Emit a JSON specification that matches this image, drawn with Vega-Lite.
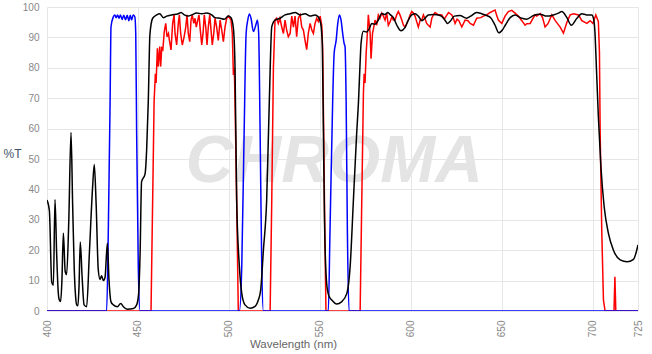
{
"$schema":"https://vega.github.io/schema/vega-lite/v6.json",
"width":591,"height":304,
"autosize":{"type":"none"},
"padding":{"left":47,"top":7,"right":14,"bottom":43},
"background":"white",
"config":{"view":{"stroke":null},"font":"Liberation Sans",
 "axis":{"ticks":false,"domain":false,"grid":true,"gridColor":"#e6e6e6","labelColor":"#888888","labelFontSize":10,"labelFont":"Liberation Sans","labelOverlap":false,"titleFont":"Liberation Sans","titleFontWeight":"normal"},
 "axisX":{"labelAngle":-90,"labelFlush":false,"labelPadding":9,"titleFontSize":11.5,"titleColor":"#666666","titleX":246,"titleY":33,"titleAlign":"center","titleBaseline":"middle"},
 "axisY":{"labelPadding":8,"titleFontSize":12,"titleColor":"#44546a","titleAngle":0,"titleX":-35,"titleY":146,"titleAlign":"center","titleBaseline":"middle"}},
"datasets":{
"wm":[{"label":"CHROMA"}],
"black":[{"wl":400,"t":36.5},{"wl":401.3,"t":33},{"wl":402.6,"t":9.5},{"wl":403.5,"t":8.5},{"wl":404.4,"t":36.7},{"wl":405.3,"t":19},{"wl":406.2,"t":6},{"wl":406.8,"t":3.6},{"wl":407.5,"t":3.1},{"wl":408.2,"t":10},{"wl":409,"t":25.6},{"wl":410,"t":13},{"wl":410.8,"t":12},{"wl":412,"t":30},{"wl":413.2,"t":58.7},{"wl":414.1,"t":35},{"wl":415,"t":13.5},{"wl":415.7,"t":5},{"wl":416.3,"t":2},{"wl":417,"t":1.7},{"wl":417.6,"t":8},{"wl":418.3,"t":22.7},{"wl":419.3,"t":11.3},{"wl":420.4,"t":2},{"wl":421.8,"t":1.4},{"wl":423.3,"t":19},{"wl":425.1,"t":41},{"wl":426,"t":48.2},{"wl":427,"t":35.5},{"wl":428.2,"t":13.5},{"wl":429.2,"t":10.4},{"wl":430,"t":11.6},{"wl":431,"t":10},{"wl":431.9,"t":11},{"wl":433.2,"t":22.3},{"wl":434.1,"t":10.2},{"wl":435.2,"t":3},{"wl":436.5,"t":2},{"wl":438.7,"t":1.4},{"wl":440.5,"t":2.5},{"wl":442,"t":1.4},{"wl":444.2,"t":0.6},{"wl":447.5,"t":0.8},{"wl":449.3,"t":2},{"wl":450.4,"t":5.8},{"wl":451.2,"t":19},{"wl":452,"t":42.5},{"wl":453.9,"t":45},{"wl":454.8,"t":53},{"wl":455.7,"t":69},{"wl":456.6,"t":91},{"wl":458.1,"t":96.3},{"wl":460.3,"t":97.4},{"wl":462,"t":97.8},{"wl":464,"t":96.5},{"wl":465.8,"t":97},{"wl":468.5,"t":97.4},{"wl":472.2,"t":97.8},{"wl":473.7,"t":98.2},{"wl":475.5,"t":97.4},{"wl":477.7,"t":97},{"wl":479.6,"t":97.4},{"wl":482.3,"t":98},{"wl":485.1,"t":97.8},{"wl":487.8,"t":98},{"wl":490.6,"t":97.4},{"wl":492.4,"t":96.5},{"wl":495.2,"t":96.3},{"wl":497.5,"t":96},{"wl":499.7,"t":97},{"wl":501.2,"t":96.5},{"wl":502.5,"t":93},{"wl":503.4,"t":80},{"wl":504.3,"t":36.5},{"wl":505.8,"t":14.6},{"wl":507.1,"t":5.8},{"wl":508.9,"t":2},{"wl":511.7,"t":0.9},{"wl":514.4,"t":1.5},{"wl":516.2,"t":3.6},{"wl":517.5,"t":6.9},{"wl":519,"t":20},{"wl":520.8,"t":36.5},{"wl":522.3,"t":70},{"wl":523.6,"t":93.5},{"wl":525.4,"t":95.7},{"wl":528.2,"t":96.3},{"wl":530.9,"t":97.4},{"wl":533.7,"t":97.8},{"wl":536.4,"t":98.2},{"wl":539.2,"t":97.4},{"wl":541.9,"t":97.8},{"wl":544.7,"t":97},{"wl":547.4,"t":97.4},{"wl":549.2,"t":96.7},{"wl":550.5,"t":94.6},{"wl":551.4,"t":88},{"wl":552,"t":60},{"wl":552.6,"t":30},{"wl":553.8,"t":9},{"wl":555,"t":5},{"wl":556.6,"t":3.6},{"wl":559.3,"t":2.3},{"wl":562,"t":3},{"wl":564.9,"t":5.8},{"wl":566.7,"t":14.6},{"wl":568.5,"t":36.5},{"wl":570.3,"t":58.5},{"wl":571.3,"t":69},{"wl":572.2,"t":82},{"wl":572.7,"t":88},{"wl":574,"t":92},{"wl":575.8,"t":91.8},{"wl":577.3,"t":93},{"wl":578.6,"t":94.6},{"wl":580.4,"t":94.3},{"wl":582.2,"t":95.7},{"wl":584.1,"t":97.9},{"wl":585.9,"t":97.5},{"wl":587.4,"t":98.2},{"wl":588.7,"t":97.5},{"wl":590.5,"t":96.5},{"wl":592.4,"t":94},{"wl":594.7,"t":92.2},{"wl":596.9,"t":93.3},{"wl":598.7,"t":95.7},{"wl":600.6,"t":97.4},{"wl":602.4,"t":97.8},{"wl":604.2,"t":97},{"wl":606.1,"t":95.5},{"wl":607.9,"t":96.3},{"wl":609.7,"t":97.4},{"wl":612.5,"t":97.5},{"wl":616.2,"t":97.2},{"wl":618.5,"t":96},{"wl":620.3,"t":94.6},{"wl":622,"t":95.5},{"wl":624,"t":97},{"wl":627,"t":97.2},{"wl":630.8,"t":96.3},{"wl":633,"t":97},{"wl":636.3,"t":98.2},{"wl":639,"t":97.8},{"wl":641.8,"t":97.2},{"wl":644,"t":96.5},{"wl":646.4,"t":94},{"wl":648.5,"t":91.5},{"wl":650.5,"t":92.5},{"wl":652,"t":94},{"wl":654.7,"t":96.5},{"wl":657.4,"t":97.4},{"wl":660.2,"t":96.5},{"wl":663.8,"t":96},{"wl":667.5,"t":97.2},{"wl":671.2,"t":97.6},{"wl":674.8,"t":97},{"wl":678.5,"t":97.4},{"wl":681.3,"t":98},{"wl":683.1,"t":98.5},{"wl":685.9,"t":96.5},{"wl":688.3,"t":94},{"wl":691.4,"t":96.3},{"wl":694.1,"t":97.8},{"wl":696.9,"t":97.4},{"wl":699.6,"t":97.4},{"wl":700.6,"t":96},{"wl":701.3,"t":92},{"wl":702,"t":82},{"wl":703.2,"t":64},{"wl":704.6,"t":47.5},{"wl":706.4,"t":34.3},{"wl":708.7,"t":25.6},{"wl":711.5,"t":20},{"wl":715.2,"t":16.8},{"wl":719,"t":16.2},{"wl":722.5,"t":17},{"wl":725,"t":21.7}],
"blue":[{"wl":400,"t":0},{"wl":432.8,"t":0},{"wl":433.7,"t":25.6},{"wl":434.7,"t":69},{"wl":435.2,"t":93.5},{"wl":436.5,"t":96.8},{"wl":437.3,"t":97.4},{"wl":438,"t":96.5},{"wl":438.8,"t":97.4},{"wl":439.6,"t":96.3},{"wl":440.4,"t":97.4},{"wl":441.3,"t":95.9},{"wl":442.2,"t":97.3},{"wl":443.2,"t":95.8},{"wl":444.1,"t":97.3},{"wl":445,"t":95.5},{"wl":445.8,"t":97.3},{"wl":446.5,"t":95.7},{"wl":447.4,"t":97.4},{"wl":448.3,"t":96.8},{"wl":448.8,"t":91.3},{"wl":449.3,"t":58.5},{"wl":450.2,"t":14.6},{"wl":451.2,"t":0},{"wl":505.8,"t":0},{"wl":507.1,"t":14.6},{"wl":508.4,"t":58.5},{"wl":509.5,"t":91.3},{"wl":510.4,"t":95.7},{"wl":511.3,"t":97.7},{"wl":512.2,"t":96.3},{"wl":513.5,"t":91.9},{"wl":514.8,"t":94},{"wl":515.7,"t":95.7},{"wl":516.4,"t":91.3},{"wl":517.2,"t":58.5},{"wl":518.1,"t":14.6},{"wl":519,"t":0},{"wl":554.7,"t":0},{"wl":555.6,"t":25.6},{"wl":557.1,"t":69},{"wl":557.9,"t":84.7},{"wl":559,"t":89},{"wl":559.9,"t":94.6},{"wl":560.8,"t":97.4},{"wl":561.7,"t":95.7},{"wl":562.6,"t":91.3},{"wl":563.4,"t":88},{"wl":563.9,"t":87},{"wl":564.5,"t":69},{"wl":565.2,"t":25.6},{"wl":566.1,"t":0},{"wl":725,"t":0}],
"red":[{"wl":400,"t":0},{"wl":457.2,"t":0},{"wl":458.1,"t":36.5},{"wl":458.9,"t":69},{"wl":459.6,"t":78},{"wl":460,"t":75},{"wl":460.7,"t":86.4},{"wl":461.2,"t":80.4},{"wl":462,"t":87},{"wl":462.5,"t":80.4},{"wl":463.1,"t":86.5},{"wl":463.7,"t":86},{"wl":464.5,"t":92},{"wl":465.3,"t":94.6},{"wl":466,"t":90.2},{"wl":466.8,"t":91.3},{"wl":467.3,"t":89},{"wl":468.2,"t":85.9},{"wl":469.1,"t":94.6},{"wl":469.9,"t":97.4},{"wl":470.4,"t":91.3},{"wl":471.3,"t":87.5},{"wl":472.2,"t":94.6},{"wl":472.8,"t":97.4},{"wl":473.5,"t":91.3},{"wl":474.4,"t":87.5},{"wl":475.4,"t":90.2},{"wl":476.3,"t":93.4},{"wl":477,"t":97.4},{"wl":477.7,"t":91.3},{"wl":478.5,"t":88.6},{"wl":479.2,"t":95.7},{"wl":479.9,"t":97.4},{"wl":480.7,"t":94.6},{"wl":481.4,"t":96.3},{"wl":482.1,"t":93.4},{"wl":482.9,"t":95.7},{"wl":483.6,"t":97.4},{"wl":484.3,"t":92.4},{"wl":485.1,"t":87.5},{"wl":485.8,"t":91.3},{"wl":486.5,"t":97.4},{"wl":487.3,"t":93.4},{"wl":488,"t":87.5},{"wl":488.7,"t":93.4},{"wl":489.5,"t":97.4},{"wl":490.2,"t":92.4},{"wl":490.9,"t":87.5},{"wl":491.7,"t":91.3},{"wl":492.4,"t":96.3},{"wl":493.3,"t":93.4},{"wl":494.2,"t":89},{"wl":495.2,"t":95.7},{"wl":496.1,"t":92.4},{"wl":497,"t":88.6},{"wl":497.9,"t":93.4},{"wl":498.8,"t":96.3},{"wl":499.7,"t":97},{"wl":501.2,"t":95.7},{"wl":501.9,"t":91.3},{"wl":502.5,"t":77.6},{"wl":503,"t":80},{"wl":503.4,"t":69},{"wl":504.3,"t":36.5},{"wl":505.2,"t":0},{"wl":522.7,"t":0},{"wl":523.6,"t":36.5},{"wl":524.5,"t":80},{"wl":525.4,"t":95.7},{"wl":526.3,"t":96.3},{"wl":527.2,"t":94.6},{"wl":528.1,"t":96.3},{"wl":529.1,"t":93.4},{"wl":530,"t":91.3},{"wl":530.9,"t":95.7},{"wl":531.8,"t":92.4},{"wl":532.7,"t":90.2},{"wl":533.7,"t":91.3},{"wl":534.6,"t":97},{"wl":535.5,"t":93.4},{"wl":536.4,"t":97},{"wl":537.3,"t":90.2},{"wl":538.2,"t":96.3},{"wl":539.2,"t":97.4},{"wl":540.1,"t":93.4},{"wl":541,"t":92.4},{"wl":541.9,"t":89},{"wl":542.8,"t":86},{"wl":543.7,"t":91.3},{"wl":544.7,"t":94.6},{"wl":545.6,"t":92.4},{"wl":546.5,"t":91.3},{"wl":547.4,"t":94.6},{"wl":548.3,"t":96.3},{"wl":549.2,"t":95.2},{"wl":550.2,"t":97},{"wl":551.1,"t":94},{"wl":551.6,"t":85.9},{"wl":552,"t":66},{"wl":552.7,"t":30},{"wl":553.4,"t":0},{"wl":572.2,"t":0},{"wl":573.1,"t":36.5},{"wl":574,"t":71.6},{"wl":574.4,"t":78},{"wl":574.9,"t":75},{"wl":575.5,"t":84.7},{"wl":576.4,"t":93.5},{"wl":576.7,"t":97.4},{"wl":577.7,"t":91.3},{"wl":578.2,"t":83},{"wl":579,"t":91.3},{"wl":579.7,"t":93.4},{"wl":580.4,"t":95.7},{"wl":581.3,"t":94},{"wl":582.2,"t":97.4},{"wl":583.1,"t":96.3},{"wl":584.1,"t":98},{"wl":585,"t":97},{"wl":585.9,"t":95.7},{"wl":586.8,"t":98},{"wl":587.7,"t":94},{"wl":588.7,"t":95.2},{"wl":589.6,"t":96.7},{"wl":590.5,"t":95.7},{"wl":591.4,"t":95.7},{"wl":592.3,"t":97.4},{"wl":593.2,"t":98.5},{"wl":594.1,"t":97.4},{"wl":595.1,"t":95.7},{"wl":596,"t":94},{"wl":596.9,"t":93.4},{"wl":597.8,"t":94.5},{"wl":598.7,"t":95.7},{"wl":599.7,"t":97.4},{"wl":600.6,"t":98.5},{"wl":601.5,"t":98},{"wl":602.4,"t":97},{"wl":603.3,"t":95.2},{"wl":604.2,"t":93.4},{"wl":605.2,"t":95.7},{"wl":606.1,"t":95.7},{"wl":607,"t":97.4},{"wl":608,"t":96},{"wl":608.8,"t":94.6},{"wl":609.7,"t":94},{"wl":610.7,"t":93.4},{"wl":611.6,"t":96.3},{"wl":612.5,"t":97.4},{"wl":613.4,"t":98.2},{"wl":615,"t":97.5},{"wl":617.1,"t":97.4},{"wl":618.5,"t":96},{"wl":619.5,"t":97},{"wl":620.8,"t":98.2},{"wl":622.6,"t":97.4},{"wl":623.5,"t":96.3},{"wl":624.4,"t":94.6},{"wl":625.5,"t":96},{"wl":626.5,"t":95.5},{"wl":628.1,"t":93.4},{"wl":629.9,"t":95.7},{"wl":631.5,"t":95.5},{"wl":632.7,"t":94.6},{"wl":634.5,"t":94},{"wl":636.3,"t":96.3},{"wl":638.5,"t":96.5},{"wl":640,"t":97},{"wl":641.8,"t":97.4},{"wl":643.7,"t":98.2},{"wl":644.6,"t":98.5},{"wl":646.4,"t":99},{"wl":647.4,"t":97},{"wl":648.2,"t":95.7},{"wl":650.1,"t":94.6},{"wl":651.9,"t":97},{"wl":653.7,"t":98.5},{"wl":655.6,"t":98.9},{"wl":657.4,"t":98},{"wl":659.2,"t":97},{"wl":661.1,"t":95.5},{"wl":662.9,"t":94},{"wl":663.8,"t":94.5},{"wl":665.7,"t":94.6},{"wl":667.5,"t":96.5},{"wl":668.4,"t":97.4},{"wl":669.3,"t":97},{"wl":671.2,"t":97.8},{"wl":672.5,"t":96.5},{"wl":673.9,"t":93.4},{"wl":675.5,"t":94.5},{"wl":677.6,"t":97.4},{"wl":679.5,"t":95.5},{"wl":682.2,"t":93.4},{"wl":684,"t":91.4},{"wl":685.9,"t":95},{"wl":687.7,"t":97.4},{"wl":689.6,"t":97.8},{"wl":692.3,"t":97.4},{"wl":694.1,"t":95.5},{"wl":696.9,"t":94.6},{"wl":698.7,"t":95.5},{"wl":700.2,"t":94.6},{"wl":701.8,"t":97.4},{"wl":703.2,"t":95.2},{"wl":703.8,"t":85},{"wl":704.2,"t":58.5},{"wl":705.1,"t":25.6},{"wl":706,"t":3.6},{"wl":706.9,"t":0},{"wl":711.8,"t":0},{"wl":712.3,"t":11.3},{"wl":712.8,"t":0},{"wl":725,"t":0}]
},
"layer":[
{"data":{"name":"wm"},"mark":{"type":"text","text":"CHROMA","font":"Liberation Sans","fontSize":66,"fontWeight":"bold","fontStyle":"italic","fill":"#e4e4e4","align":"center","baseline":"alphabetic"},
 "encoding":{"x":{"datum":558,"type":"quantitative","axis":{"values":[400,450,500,550,600,650,700,725],"title":"Wavelength (nm)","labelOverlap":false}},"y":{"datum":42.4,"type":"quantitative","axis":{"values":[0,10,20,30,40,50,60,70,80,90,100],"title":"%T","labelOverlap":false,"tickCount":11}}}},
{"data":{"name":"red"},"mark":{"type":"line","color":"#ff0000","strokeWidth":1.5,"clip":true},
 "encoding":{
  "x":{"field":"wl","type":"quantitative","scale":{"domain":[400,725],"nice":false,"zero":false},"axis":{"values":[400,450,500,550,600,650,700,725],"title":"Wavelength (nm)","labelOverlap":false}},
  "y":{"field":"t","type":"quantitative","scale":{"domain":[0,100],"nice":false},"axis":{"values":[0,10,20,30,40,50,60,70,80,90,100],"title":"%T","labelOverlap":false,"tickCount":11}}}},
{"data":{"name":"blue"},"mark":{"type":"line","color":"#0000ff","strokeWidth":1.5,"interpolate":"monotone","clip":true},
 "encoding":{"x":{"field":"wl","type":"quantitative"},"y":{"field":"t","type":"quantitative"}}},
{"data":{"name":"black"},"mark":{"type":"line","color":"#000000","strokeWidth":1.5,"interpolate":"monotone","clip":true},
 "encoding":{"x":{"field":"wl","type":"quantitative"},"y":{"field":"t","type":"quantitative"}}}
]
}
